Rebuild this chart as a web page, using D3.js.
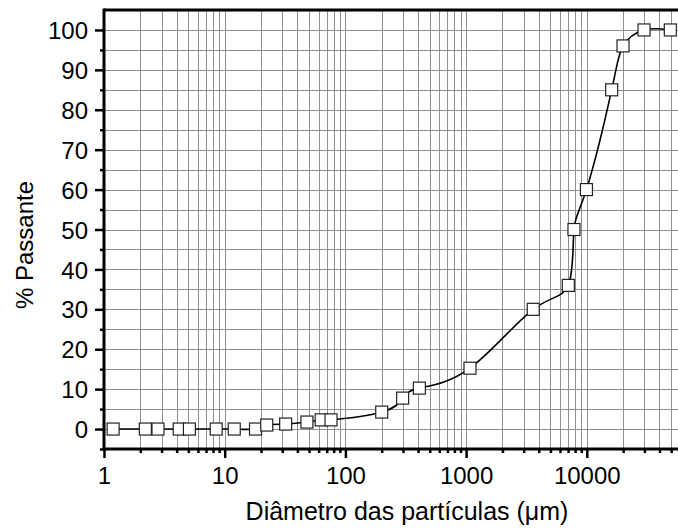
<!DOCTYPE html>
<html>
<head>
<meta charset="utf-8">
<script src="https://cdn.jsdelivr.net/npm/d3@7"></script>
<style>
  html, body { margin: 0; padding: 0; background: #fff; }
  svg { display: block; font-family: "Liberation Sans", Arial, sans-serif; }
</style>
</head>
<body>
<svg id="chart" width="678" height="532"></svg>
<script>
// Particle size distribution: cumulative % passing vs. diameter (µm)
const diameters = [1.19, 2.2, 2.8, 4.2, 5.1, 8.5, 12, 18, 22.3, 32, 48, 63, 76,
                   200, 298, 410, 1077, 3600, 7030, 7830, 9930, 16070, 19950, 29800, 49200];
const passing   = [0, 0, 0, 0, 0, 0, 0, 0, 1, 1.25, 1.75, 2.3, 2.3,
                   4.25, 7.75, 10.25, 15.25, 30, 36, 50, 60, 85, 96, 100, 100];
const xTickValues = [1, 10, 100, 1000, 10000];
const yTickValues = [0, 10, 20, 30, 40, 50, 60, 70, 80, 90, 100];
const xTitle = "Diâmetro das partículas (μm)";
const yTitle = "% Passante";

const svg = d3.select("#chart");
const plotLeft = 104, plotTop = 10, plotBottom = 449, plotRight = 678;
const decadePx = 120.7;
const tickFont = "24px";

const x = d3.scaleLog().domain([1, 1e5]).range([plotLeft, plotLeft + 5 * decadePx]);
const y = d3.scaleLinear().domain([-5, 105]).range([plotBottom, plotTop]);

// log grid positions (2..9 in each decade, plus decades)
const logLines = [];
for (let e = 0; e < 5; e++) {
  for (let m = 1; m <= 9; m++) {
    const v = m * Math.pow(10, e);
    if (v > 1) logLines.push(v);
  }
}
const hLines = d3.range(0, 101, 5);

const grid = svg.append("g").attr("stroke", "#8e8e8e").attr("stroke-width", 1);
grid.selectAll("line.v").data(logLines).join("line")
  .attr("class", "v")
  .attr("x1", d => Math.round(x(d)) + 0.5).attr("x2", d => Math.round(x(d)) + 0.5)
  .attr("y1", plotTop).attr("y2", plotBottom);
grid.selectAll("line.h").data(hLines).join("line")
  .attr("class", "h")
  .attr("x1", plotLeft).attr("x2", plotRight)
  .attr("y1", d => Math.round(y(d)) + 0.5).attr("y2", d => Math.round(y(d)) + 0.5);

// Axes
const xAxis = d3.axisBottom(x).tickValues(xTickValues).tickFormat(d3.format("d"))
  .tickSizeInner(9).tickSizeOuter(0).tickPadding(9);
const xMinor = d3.axisBottom(x).tickValues(logLines.filter(v => !xTickValues.includes(v)))
  .tickFormat("").tickSizeInner(4).tickSizeOuter(0);
const yAxis = d3.axisLeft(y).tickValues(yTickValues)
  .tickSizeInner(9).tickSizeOuter(0).tickPadding(7);
const yMinor = d3.axisLeft(y).tickValues(d3.range(-5, 100, 10))
  .tickFormat("").tickSizeInner(4).tickSizeOuter(0);

function styleAxis(g) {
  g.select(".domain").remove();
  g.selectAll(".tick line").attr("stroke", "#000").attr("stroke-width", 2.5);
  g.selectAll(".tick text").attr("fill", "#000").style("font-size", tickFont)
    .style("font-family", "'Liberation Sans', Arial, sans-serif");
}

svg.append("g").attr("transform", `translate(0,${plotBottom})`).call(xMinor).call(styleAxis);
svg.append("g").attr("transform", `translate(0,${plotBottom})`).call(xAxis).call(styleAxis);
svg.append("g").attr("transform", `translate(${plotLeft},0)`).call(yMinor).call(styleAxis);
svg.append("g").attr("transform", `translate(${plotLeft},0)`).call(yAxis).call(styleAxis)
  .selectAll(".tick text").attr("dy", "0.36em");

// Frame (left, top, bottom)
const frame = svg.append("g").attr("stroke", "#000").attr("stroke-width", 3).attr("fill", "none");
frame.append("line").attr("x1", plotLeft).attr("x2", plotLeft).attr("y1", plotTop - 1.5).attr("y2", plotBottom + 1.5);
frame.append("line").attr("x1", plotLeft).attr("x2", plotRight).attr("y1", plotTop).attr("y2", plotTop);
frame.append("line").attr("x1", plotLeft).attr("x2", plotRight).attr("y1", plotBottom).attr("y2", plotBottom);

// Smooth spline through the measured points
const data = diameters.map((d, i) => ({ d, p: passing[i] }));
const line = d3.line().x(v => x(v.d)).y(v => y(v.p)).curve(d3.curveNatural);
svg.append("path").datum(data)
  .attr("d", line).attr("fill", "none").attr("stroke", "#000").attr("stroke-width", 1.6);

// Square markers
const s = 12;
svg.append("g").selectAll("rect").data(data).join("rect")
  .attr("x", v => x(v.d) - s / 2).attr("y", v => y(v.p) - s / 2)
  .attr("width", s).attr("height", s)
  .attr("fill", "#fff").attr("stroke", "#222").attr("stroke-width", 1.2);

// Titles
svg.append("text").attr("x", 407).attr("y", 520).attr("text-anchor", "middle")
  .style("font-size", "25px").attr("fill", "#000").text(xTitle);
svg.append("text").attr("transform", "translate(33,245) rotate(-90)")
  .attr("text-anchor", "middle").style("font-size", "24px").attr("fill", "#000").text(yTitle);
</script>
</body>
</html>
